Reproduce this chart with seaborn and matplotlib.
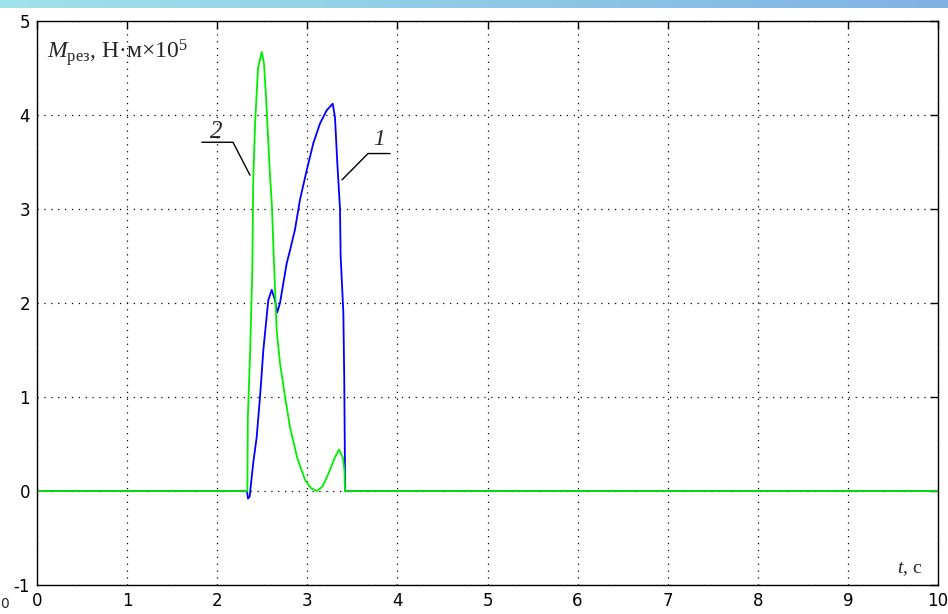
import numpy as np
import pandas as pd
import matplotlib
matplotlib.use("Agg")
import matplotlib.pyplot as plt
from matplotlib.lines import Line2D
import seaborn as sns

# ---- data ----
t1 = [0, 2.33, 2.342, 2.36, 2.40, 2.438, 2.475, 2.494, 2.512, 2.538, 2.567, 2.605,
      2.641, 2.667, 2.697, 2.734, 2.771, 2.808, 2.863, 2.919, 2.993, 3.067, 3.141,
      3.215, 3.282, 3.307, 3.333, 3.363, 3.37, 3.40, 3.41, 3.418, 3.42, 10]
m1 = [0, 0, -0.08, -0.06, 0.30, 0.57, 1.00, 1.25, 1.50, 1.75, 2.03, 2.14,
      2.03, 1.90, 2.00, 2.21, 2.42, 2.56, 2.78, 3.10, 3.41, 3.70, 3.91,
      4.05, 4.12, 3.98, 3.49, 3.00, 2.50, 1.90, 1.20, 0.24, 0, 0]

t2 = [0, 2.335, 2.34, 2.364, 2.39, 2.40, 2.42, 2.453, 2.494, 2.519, 2.542, 2.583,
      2.608, 2.625, 2.66, 2.697, 2.753, 2.808, 2.886, 2.974, 3.04, 3.108, 3.17,
      3.219, 3.308, 3.352, 3.396, 3.412, 3.418, 10]
m2 = [0, 0, 0.78, 1.43, 2.37, 3.30, 3.90, 4.50, 4.67, 4.55, 4.19, 3.41,
      3.02, 2.56, 1.71, 1.36, 1.00, 0.68, 0.36, 0.12, 0.03, 0.00, 0.05,
      0.15, 0.36, 0.44, 0.35, 0.22, 0.0, 0]

curve_labels = ["1", "2"]
x_ticks = [0, 1, 2, 3, 4, 5, 6, 7, 8, 9, 10]
y_ticks = [-1, 0, 1, 2, 3, 4, 5]

df = pd.concat([
    pd.DataFrame({"t": t1, "M": m1, "curve": curve_labels[0]}),
    pd.DataFrame({"t": t2, "M": m2, "curve": curve_labels[1]}),
], ignore_index=True)

sns.set_style("white")
plt.rcParams["font.family"] = ["DejaVu Sans"]
plt.rcParams["mathtext.fontset"] = "custom"
plt.rcParams["mathtext.rm"] = "Liberation Serif"
plt.rcParams["mathtext.it"] = "Liberation Serif:italic"

W, H = 948, 614
fig = plt.figure(figsize=(W / 100, H / 100), dpi=100)
fig.patch.set_facecolor("white")

# top decorative gradient strip
sax = fig.add_axes([0, 1 - 8 / H, 1, 8 / H])
grad = np.linspace(0, 1, 256)
c0 = np.array([160, 226, 234]) / 255
c1 = np.array([128, 178, 228]) / 255
img = (c0[None, :] * (1 - grad[:, None]) + c1[None, :] * grad[:, None])[None, :, :]
sax.imshow(img, aspect="auto", extent=[0, 1, 0, 1])
sax.set_axis_off()

ax = fig.add_axes([37 / W, (H - 585) / H, 901 / W, 564 / H])
sns.lineplot(data=df, x="t", y="M", hue="curve", hue_order=curve_labels,
             palette={"1": "#0000ff", "2": "#00ee00"}, estimator=None,
             sort=False, legend=False, linewidth=1.3, ax=ax)

ax.set_xlim(0, 10)
ax.set_ylim(-1, 5)
ax.set_xticks(x_ticks)
ax.set_yticks(y_ticks)
ax.set_xticklabels([str(v) for v in x_ticks])
ax.set_yticklabels([str(v) for v in y_ticks])
ax.set_xlabel("")
ax.set_ylabel("")
ax.grid(True, color="black", linestyle=(0, (1, 4.5)), linewidth=0.9)
ax.tick_params(direction="in", length=6, width=1, top=True, right=True,
               labelsize=12, colors="black", pad=5)
for s in ax.spines.values():
    s.set_visible(True)
    s.set_color("black")
    s.set_linewidth(1.0)

# axis labels inside the plot
ax.text(0.11, 4.6, r"$M_{\mathrm{рез}}$, Н·м×10$^{5}$", fontsize=17,
        family="Liberation Serif", ha="left", va="baseline")
ax.text(9.54, -0.87, r"$t$, с", fontsize=14, family="Liberation Serif",
        ha="left", va="baseline")

# curve markers
for (xs, ys) in [([1.83, 2.175, 2.364], [3.71, 3.71, 3.36]),
                 ([3.918, 3.674, 3.385], [3.59, 3.59, 3.31])]:
    ax.add_line(Line2D(xs, ys, color="black", linewidth=1.0))
ax.text(1.99, 3.755, "2", fontsize=18, style="italic", family="Liberation Serif",
        ha="center", va="baseline")
ax.text(3.80, 3.68, "1", fontsize=17, style="italic", family="Liberation Serif",
        ha="center", va="baseline")

# stray character at the bottom-left edge
fig.text(0 / W, (H - 608) / H, "0", fontsize=10, ha="left", va="baseline")

fig.savefig("out.png", dpi=100)
